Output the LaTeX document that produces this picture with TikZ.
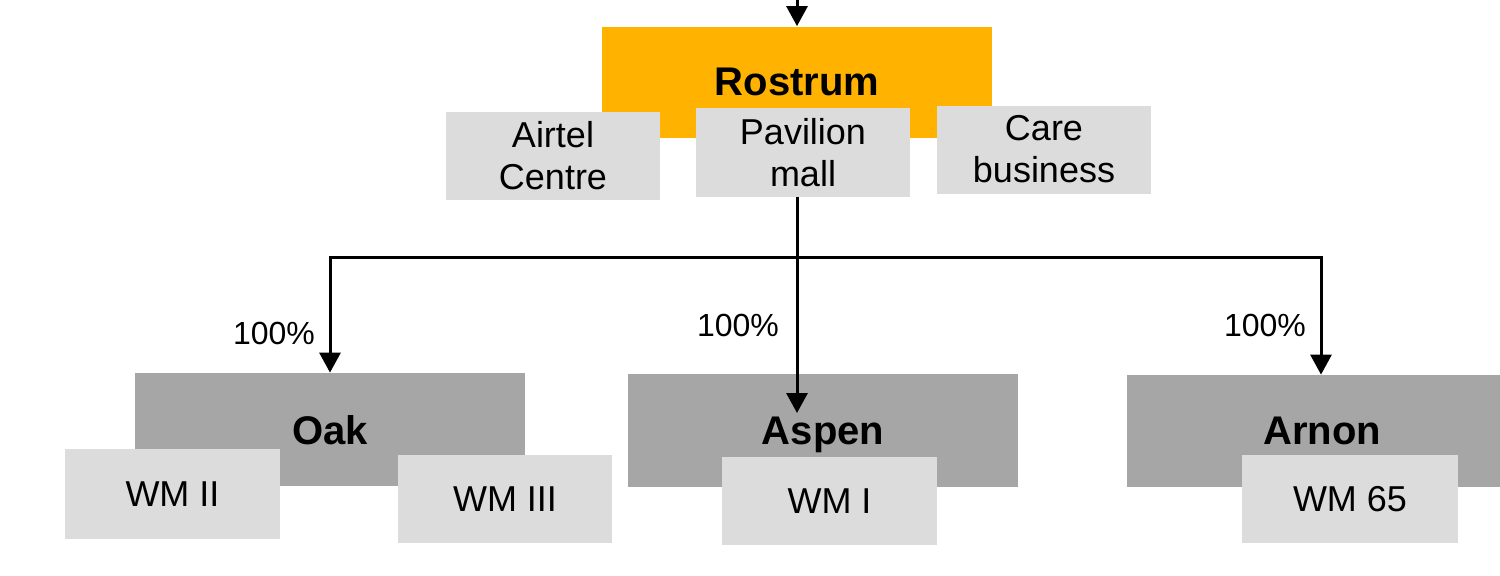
\documentclass[tikz,border=0pt]{standalone}
\usepackage{fontspec}
\setmainfont{Liberation Sans}
\usetikzlibrary{arrows.meta}
\definecolor{rorange}{HTML}{FFB300}
\definecolor{dgray}{HTML}{A6A6A6}
\definecolor{lgray}{HTML}{DCDCDC}
\tikzset{
  base/.style={inner sep=0pt, align=center, text=black},
  bigbox/.style={base, fill=dgray, minimum width=195pt, minimum height=56.5pt, text depth=0pt, font=\fontsize{20}{24}\selectfont\bfseries},
  topbox/.style={bigbox, fill=rorange, minimum height=55.5pt},
  smallbox/.style={base, fill=lgray, minimum width=107pt, minimum height=44pt, font=\fontsize{18}{21}\selectfont},
  pct/.style={inner sep=0pt, font=\fontsize{16}{19}\selectfont},
  conn/.style={draw=black, line width=1.5pt},
  arr/.style={conn, -{Triangle[width=10.5pt,length=10pt]}}
}
\begin{document}
\begin{tikzpicture}[x=0.5pt,y=-0.5pt]
\useasboundingbox[fill=white] (0,0) rectangle (1500,575);
% top level
\node[topbox] (rostrum) at (797,82) {Rostrum};
\node[smallbox] (airtel) at (553,155.5) {Airtel\\Centre};
\node[smallbox, minimum height=44.5pt] (pav) at (803,152.5) {Pavilion\\mall};
\node[smallbox] (care) at (1044,149.5) {Care\\business};
% second level
\node[bigbox] (oak) at (330,429.5) {Oak};
\node[smallbox, minimum width=107.5pt, minimum height=45pt] (wm2) at (172.5,494) {WM II};
\node[smallbox] (wm3) at (505,499) {WM III};
\node[bigbox] (aspen) at (823,430.5) {Aspen};
\node[smallbox, minimum width=107.5pt] (wm1) at (829.5,501) {WM I};
\node[bigbox, minimum height=56pt] (arnon) at (1322,431) {Arnon};
\node[smallbox, minimum width=108pt] (wm65) at (1350,499) {WM 65};
% labels
\node[pct] (p1) at (274,333) {100\%};
\node[pct] (p2) at (738,325) {100\%};
\node[pct] (p3) at (1265,325) {100\%};
% connectors
\coordinate (topin) at (797,0);
\coordinate (j) at (797,257);
\coordinate (aspenin) at (797,413);
\draw[arr] (topin) -- (rostrum.north);
\draw[conn] (pav.south -| j) -- (j);
\draw[arr] (j) -| (oak.north);
\draw[arr] (j) -| ([xshift=-0.5pt]arnon.north);
\draw[arr] (j) -- (aspenin);
\end{tikzpicture}
\end{document}
